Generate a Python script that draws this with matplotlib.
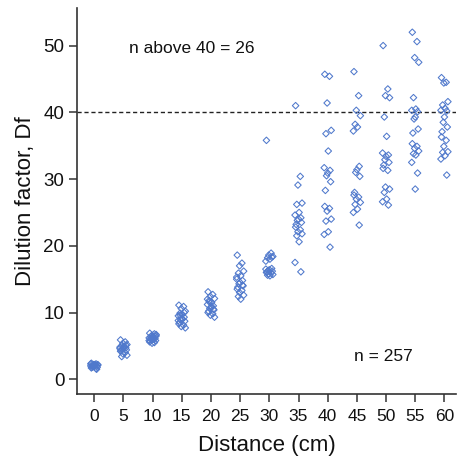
import matplotlib
matplotlib.use('Agg')
import matplotlib.pyplot as plt
import numpy as np

plt.rcParams['font.family'] = ['Liberation Sans', 'DejaVu Sans']

distances = [0, 5, 10, 15, 20, 25, 30, 35, 40, 45, 50, 55, 60]

df_values = {
    0: [2.4, 2.3, 2.2, 2.2, 2.1, 2.1, 2.0, 2.0, 1.9, 1.9, 1.8, 1.8, 1.7, 1.6,
        2.0, 2.1, 1.9, 2.2, 2.3, 1.5],
    5: [5.9, 5.6, 5.4, 5.2, 5.0, 4.9, 4.8, 4.7, 4.6, 4.5, 4.4, 4.3, 4.2, 4.0,
        3.8, 3.6, 3.4, 4.9, 4.6, 5.1],
    10: [6.9, 6.8, 6.6, 6.5, 6.4, 6.3, 6.2, 6.1, 6.0, 5.9, 5.8, 5.7, 5.6, 5.5,
         5.4, 6.7, 6.2, 6.0, 5.8, 6.4],
    15: [11.1, 10.9, 10.6, 10.2, 9.9, 9.7, 9.5, 9.3, 9.1, 8.9, 8.7, 8.5, 8.3,
         8.1, 7.9, 7.7, 9.6, 9.0, 8.8, 10.0],
    20: [13.1, 12.7, 12.4, 12.1, 11.8, 11.5, 11.2, 11.0, 10.8, 10.6, 10.4,
         10.2, 10.0, 9.8, 9.6, 9.3, 11.6, 10.9, 12.0, 10.5],
    25: [18.6, 17.4, 17.0, 16.2, 15.9, 15.5, 15.0, 14.8, 14.5, 14.3, 14.0,
         13.8, 13.5, 13.3, 13.0, 12.6, 12.4, 12.0, 15.3, 14.1],
    30: [35.8, 18.9, 18.6, 18.4, 18.2, 18.0, 17.7, 16.6, 16.4, 16.3, 16.2,
         16.1, 16.0, 15.9, 15.8, 15.7, 15.6, 15.5, 16.5, 18.3],
    35: [41.0, 30.4, 29.1, 26.4, 26.2, 25.0, 24.6, 24.2, 24.0, 23.8, 23.5,
         23.2, 22.8, 22.4, 22.1, 21.8, 21.5, 20.6, 17.5, 16.1],
    40: [45.7, 45.4, 41.4, 37.3, 36.8, 34.2, 31.7, 31.3, 30.9, 30.5, 29.6,
         28.3, 25.9, 25.6, 25.2, 24.0, 23.7, 22.1, 21.7, 19.8],
    45: [46.1, 42.5, 40.3, 39.5, 38.2, 37.8, 37.2, 31.9, 31.4, 31.0, 30.4,
         28.0, 27.6, 27.3, 27.0, 26.5, 26.2, 25.5, 25.0, 23.1],
    50: [50.0, 43.5, 42.5, 42.2, 39.3, 36.4, 33.9, 33.6, 33.4, 32.9, 32.5,
         32.1, 31.6, 31.3, 28.8, 28.5, 28.0, 27.0, 26.6, 26.1],
    55: [52.0, 50.6, 48.2, 47.5, 42.2, 40.5, 40.3, 40.1, 39.3, 39.0, 37.5,
         36.9, 35.3, 34.9, 34.6, 34.2, 33.8, 33.6, 32.5, 30.9, 28.5],
    60: [45.2, 44.5, 44.4, 41.6, 41.1, 40.6, 40.3, 40.2, 39.3, 38.5, 37.8,
         37.1, 36.3, 35.8, 34.9, 34.1, 34.0, 33.5, 33.0, 30.6],
}

n_above_label = 'n above 40 = 26'
n_label = 'n = 257'

fig = plt.figure(figsize=(4.57, 4.57), dpi=100)
ax = fig.add_axes([0.168, 0.138, 0.83, 0.844])

# small fixed horizontal spread so points at a distance don't sit on one line
spread = [-0.5, 0.3, -0.1, 0.6, -0.3, 0.1, -0.6, 0.4, 0.0, -0.2, 0.5, -0.4]
for d in distances:
    vals = df_values[d]
    xs = [d + spread[i % len(spread)] for i in range(len(vals))]
    ax.scatter(xs, vals, marker='D', s=11, facecolors='none',
               edgecolors='#5079cc', linewidths=0.75, zorder=3)

ax.axhline(40, color='#222222', linestyle=(0, (3, 2)), linewidth=1.0, zorder=2)

ax.set_xlim(-3, 62)
ax.set_ylim(-2.2, 55.6)
ax.set_xticks(distances)
ax.set_yticks([0, 10, 20, 30, 40, 50])

for s in ['top', 'right']:
    ax.spines[s].set_visible(False)
for s in ['left', 'bottom']:
    ax.spines[s].set_linewidth(1.2)
    ax.spines[s].set_color('#333333')

ax.tick_params(axis='both', length=6, width=1.1, pad=3,
               color='#333333', labelcolor='#111111')
ax.tick_params(axis='x', labelsize=12.5, pad=5)
ax.tick_params(axis='y', labelsize=13.5)
ax.set_xlabel('Distance (cm)', fontsize=16, color='#111111', labelpad=8)
ax.set_ylabel('Dilution factor, Df', fontsize=16, color='#111111', labelpad=5)

ax.text(16.7, 49.6, n_above_label, fontsize=12.5, ha='center', va='center',
        color='#111111')
ax.text(49.5, 3.4, n_label, fontsize=12.5, ha='center', va='center',
        color='#111111')

fig.savefig('out.png', dpi=100)
